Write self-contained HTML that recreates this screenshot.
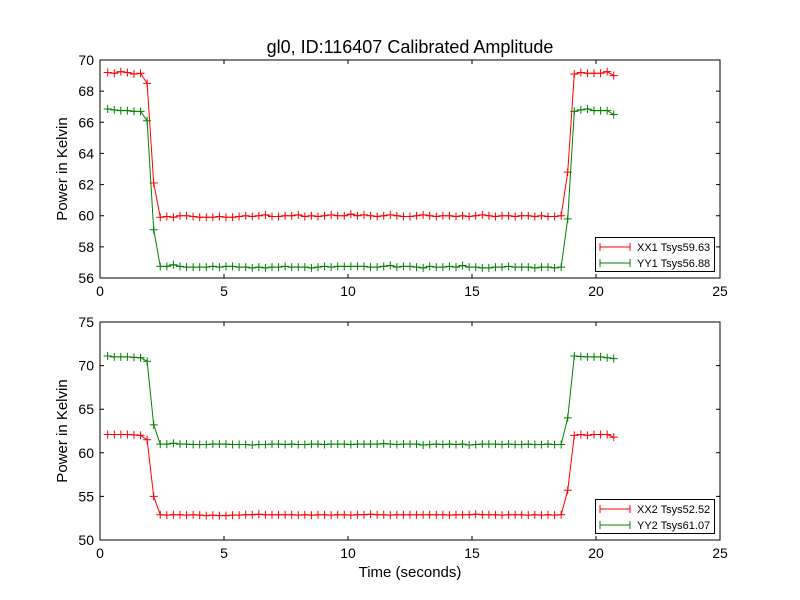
<!DOCTYPE html>
<html><head><meta charset="utf-8"><style>
body{margin:0;background:#fff;}
svg{display:block;font-family:"Liberation Sans","DejaVu Sans",sans-serif;}
</style></head><body>
<svg id="chart" width="800" height="600" xmlns="http://www.w3.org/2000/svg">
<rect width="800" height="600" fill="#fff"/>
<text x="410" y="53" font-size="18" text-anchor="middle">gl0, ID:116407 Calibrated Amplitude</text>
<g id="p1"></g><g id="p2"></g>
</svg>
<script>
const xTicks=[0,5,10,15,20,25];
const yTicksTop=[56,58,60,62,64,66,68,70];
const yTicksBot=[50,55,60,65,70,75];
const tStart=0.31, tStep=0.265;
const xx1=[69.2,69.15,69.25,69.2,69.1,69.15,68.5,62.1,
59.9,59.95,59.9,60.0,60.0,59.95,59.9,59.9,59.9,59.95,59.9,59.9,59.95,60.0,59.95,60.0,60.05,59.95,59.95,60.0,60.0,60.05,59.95,60.0,59.95,60.0,60.05,60.0,60.0,60.1,60.0,60.05,60.0,59.95,60.0,60.05,60.0,59.95,59.95,60.0,60.05,60.0,59.95,60.0,60.0,59.95,60.0,59.95,60.0,60.05,60.0,59.95,60.0,60.0,59.95,60.0,60.0,59.95,
60.0,59.95,59.95,60.0,62.8,69.1,69.2,69.15,69.15,69.15,69.25,69.0];
const yy1=[66.85,66.8,66.75,66.75,66.7,66.7,66.1,59.1,
56.75,56.75,56.85,56.75,56.7,56.7,56.7,56.7,56.75,56.7,56.75,56.75,56.7,56.7,56.65,56.7,56.65,56.7,56.7,56.75,56.7,56.7,56.7,56.65,56.7,56.75,56.7,56.75,56.75,56.75,56.75,56.75,56.7,56.7,56.75,56.8,56.7,56.75,56.75,56.7,56.65,56.75,56.7,56.7,56.75,56.7,56.8,56.7,56.7,56.65,56.65,56.7,56.7,56.75,56.7,56.7,56.7,56.65,
56.7,56.7,56.65,56.7,59.8,66.7,66.8,66.85,66.75,66.75,66.75,66.5];
const xx2=[62.1,62.1,62.1,62.1,62.05,62.0,61.5,55.0,
52.9,52.85,52.9,52.9,52.85,52.9,52.85,52.8,52.85,52.8,52.8,52.85,52.85,52.9,52.9,52.95,52.9,52.9,52.9,52.9,52.9,52.85,52.9,52.85,52.9,52.9,52.85,52.9,52.9,52.85,52.9,52.9,52.95,52.9,52.9,52.85,52.9,52.9,52.9,52.9,52.9,52.9,52.9,52.9,52.85,52.9,52.9,52.9,52.95,52.9,52.9,52.9,52.85,52.9,52.9,52.9,52.85,52.9,
52.85,52.9,52.85,52.9,55.7,62.0,62.1,62.0,62.1,62.1,62.1,61.8];
const yy2=[71.1,71.0,71.0,71.0,70.95,70.9,70.5,63.2,
61.0,61.0,61.1,61.0,61.0,60.95,60.95,60.95,61.0,61.0,61.0,60.95,60.95,60.95,60.9,60.95,60.95,61.0,61.0,60.95,61.0,60.95,60.95,61.0,61.0,60.95,61.0,61.0,61.0,60.95,61.0,61.0,61.0,61.0,61.05,61.0,60.95,61.0,61.0,61.0,60.9,60.95,61.0,60.95,61.0,60.95,61.0,60.9,60.95,61.0,61.0,61.0,60.95,61.0,60.95,60.95,61.0,60.95,
60.95,61.0,60.95,60.95,64.0,71.1,71.05,71.0,71.0,71.0,70.9,70.8];
const labelsTop=["XX1 Tsys59.63","YY1 Tsys56.88"];
const labelsBot=["XX2 Tsys52.52","YY2 Tsys61.07"];
const NS="http://www.w3.org/2000/svg";
function mk(tag,attrs,parent){const e=document.createElementNS(NS,tag);for(const k in attrs)e.setAttribute(k,attrs[k]);parent.appendChild(e);return e;}
function panel(g,top,bottom,ymin,ymax,yticks,series,labels,showX){
  const L=100,R=720;
  const sx=v=>L+(v-0)/(25-0)*(R-L);
  const sy=v=>bottom-(v-ymin)/(ymax-ymin)*(bottom-top);
  const colors=["#ff0000","#008000"];
  series.forEach((s,si)=>{
    const pts=s.map((v,i)=>[sx(tStart+i*tStep),sy(v)]);
    const pl=mk('polyline',{points:pts.map(p=>p.join(',')).join(' '),fill:'none',stroke:colors[si],'stroke-width':1},g);
    
    
    let d='';pts.forEach(p=>{d+=`M${p[0]-4},${p[1]}h8M${p[0]},${p[1]-4}v8`;});
    const mp=mk('path',{d:d,stroke:colors[si],'stroke-width':1,fill:'none'},g);
    
    
  });
  const fr=mk('rect',{x:L,y:top,width:R-L,height:bottom-top,fill:'none',stroke:'#000','stroke-width':1},g);
  
  
  xTicks.forEach(t=>{const x=sx(t);
    mk('path',{d:`M${x},${bottom}v-4M${x},${top}v4`,stroke:'#000'},g);
    const tx=mk('text',{x:x,y:bottom+18,'font-size':14,'text-anchor':'middle'},g);tx.textContent=t;
    
    });
  yticks.forEach(t=>{const y=sy(t);
    mk('path',{d:`M${L},${y}h4M${R},${y}h-4`,stroke:'#000'},g);
    const tx=mk('text',{x:L-6,y:y+5,'font-size':14,'text-anchor':'end'},g);tx.textContent=t;
    
    });
  const yl=mk('text',{x:0,y:0,'font-size':15,'text-anchor':'middle',transform:`translate(67,${(top+bottom)/2}) rotate(-90)`},g);
  yl.textContent='Power in Kelvin';
  
  
  if(showX){const xl=mk('text',{x:(L+R)/2,y:bottom+37,'font-size':15,'text-anchor':'middle'},g);xl.textContent='Time (seconds)';
    
    }
  const lg=mk('g',{},g);
  
  
  mk('rect',{x:595.5,y:bottom-40.5,width:119,height:34,fill:'#fff',stroke:'#000'},lg);
  labels.forEach((lab,i)=>{const y=bottom-31+i*16;
    mk('path',{d:`M600,${y}h30M600,${y-4}v8M630,${y-4}v8`,stroke:colors[i],fill:'none'},lg);
    const tx=mk('text',{x:637,y:y+4,'font-size':11},lg);tx.textContent=lab;
    
    });
}
panel(document.getElementById('p1'),60,278,56,70,yTicksTop,[xx1,yy1],labelsTop,false);
panel(document.getElementById('p2'),322,540,50,75,yTicksBot,[xx2,yy2],labelsBot,true);
</script>
</body></html>
